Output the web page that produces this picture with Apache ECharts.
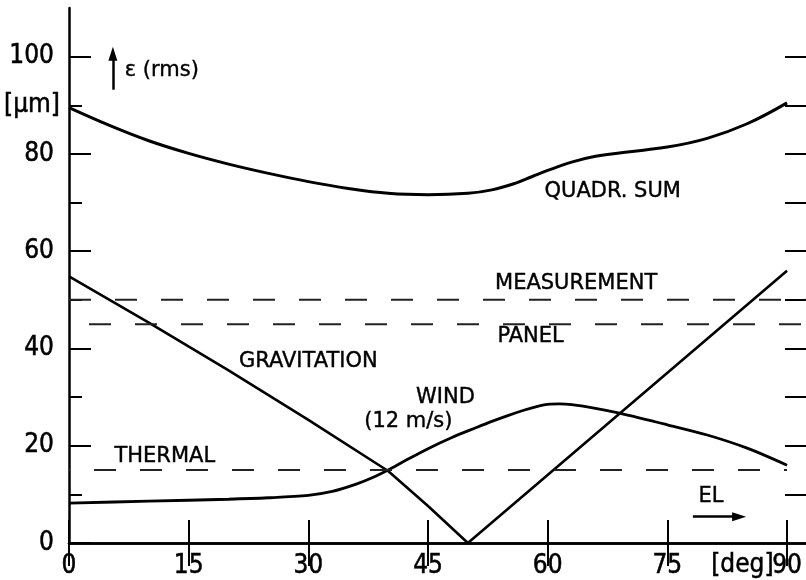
<!DOCTYPE html>
<html>
<head>
<meta charset="utf-8">
<script src="https://cdn.jsdelivr.net/npm/echarts@6/dist/echarts.min.js"></script>
<style>html,body{margin:0;padding:0;background:#fff;}#c{width:806px;height:580px;}</style>
</head>
<body>
<div id="c"></div>
<script>
// Elevation (deg) vs rms error (µm)
const xTicks = [0, 15, 30, 45, 60, 75, 90];
const yMajorTicks = [0, 20, 40, 60, 80, 100];
const yMinorTicks = [10, 30, 50, 70, 90];
const yRightTicks = [10, 20, 30, 40, 50, 60, 70, 80, 90, 100];
const quadSum = [[0,89.5],[5,85.9],[10,82.7],[15,80.1],[20,77.9],[25,76.0],[30,74.3],[35,72.9],[40,71.9],[45,71.6],[50,71.9],[53,72.6],[56,74.0],[58,75.3],[60,76.6],[63,78.3],[66,79.5],[70,80.4],[75,81.4],[80,83.2],[85,86.2],[90,90.5]];
const gravitation = [[0,54.8],[10,45.3],[20,35.5],[30,25.3],[40,14.8],[45,7.6],[50,0],[90,56]];
const wind = [[0,8.2],[10,8.6],[20,9.0],[25,9.3],[30,9.8],[33,10.6],[36,12.1],[38,13.4],[40,15.0],[42,16.8],[45,19.4],[48,21.7],[51,23.7],[53,25.0],[55,26.2],[57,27.3],[58.5,28.0],[60,28.5],[61.5,28.6],[63,28.45],[66,27.7],[69,26.7],[75,24.3],[80,22.2],[85,19.5],[90,16.0]];
const measurement = [[0,50],[92.4,50]];
const panel = [[0,45],[92.4,45]];
const thermal = [[0,15],[90,15]];
const labels = [
  {name:'ε (rms)', value:[7.0,97.1]},
  {name:'QUADR. SUM', value:[59.6,72.3]},
  {name:'MEASUREMENT', value:[53.4,53.3]},
  {name:'PANEL', value:[53.7,42.4]},
  {name:'GRAVITATION', value:[21.3,37.4]},
  {name:'WIND', value:[43.5,30.0]},
  {name:'(12 m/s)', value:[37.0,25.0]},
  {name:'THERMAL', value:[5.7,17.8]},
  {name:'EL', value:[78.9,9.5]}
];
const axisNotes = [
  {name:'[deg]', value:[80.5,-4.6]}
];
const arrows = [
  [[5.5,93.2],[5.5,100.6]],
  [[78.2,5.4],[84.0,5.4]]
];

const INK = '#000';
const tickFont = "'DejaVu Sans Condensed','Liberation Sans Narrow','DejaVu Sans',sans-serif";
const textFont = "'DejaVu Sans',sans-serif";
const XMAX = 92.38;

const chart = echarts.init(document.getElementById('c'), null, {renderer:'canvas'});
const tickLabelStyle = {color:INK, fontFamily:tickFont, fontSize:26, textBorderColor:INK, textBorderWidth:0.5};
const baseX = {
  type:'value', min:0, max:XMAX, interval:15,
  splitLine:{show:false},
  axisLine:{show:true, lineStyle:{color:INK, width:2.5}},
  axisTick:{show:true, inside:true, length:23, customValues:xTicks, lineStyle:{color:INK, width:2}}
};
chart.setOption({
  backgroundColor:'#fff',
  animation:false,
  grid:{left:69, right:0, top:8, bottom:37, containLabel:false},
  xAxis:[
    Object.assign({}, baseX, {
      position:'bottom',
      axisLabel:Object.assign({show:true, margin:10, customValues:xTicks}, tickLabelStyle)
    }),
    Object.assign({}, baseX, {position:'top', axisLabel:{show:false}})
  ],
  yAxis:[
    {type:'value', position:'left', min:0, max:110, interval:10,
     splitLine:{show:false},
     axisLine:{show:true, lineStyle:{color:INK, width:2.5}},
     axisTick:{show:true, inside:true, length:22, customValues:yMajorTicks, lineStyle:{color:INK, width:2}},
     axisLabel:Object.assign({show:true, margin:15, customValues:yMajorTicks}, tickLabelStyle)},
    {type:'value', position:'left', min:0, max:110, interval:10,
     splitLine:{show:false},
     axisLine:{show:false},
     axisTick:{show:true, inside:true, length:13, customValues:yMinorTicks, lineStyle:{color:INK, width:2}},
     axisLabel:Object.assign({show:true, margin:9, customValues:[90],
       formatter:v => v === 90 ? '[µm]' : ''}, tickLabelStyle)},
    {type:'value', position:'right', min:0, max:110, interval:10,
     splitLine:{show:false},
     axisLine:{show:false},
     axisTick:{show:true, inside:true, length:21, customValues:yRightTicks, lineStyle:{color:INK, width:2}},
     axisLabel:{show:false}}
  ],
  series:[
    {type:'line', name:'QUADR. SUM', data:quadSum, smooth:0.4, symbol:'none',
     lineStyle:{color:INK, width:3}},
    {type:'line', name:'GRAVITATION', data:gravitation, smooth:false, symbol:'none',
     lineStyle:{color:INK, width:2.6}},
    {type:'line', name:'WIND', data:wind, smooth:0.3, symbol:'none',
     lineStyle:{color:INK, width:2.8}},
    {type:'line', name:'MEASUREMENT', data:measurement, symbol:'none',
     lineStyle:{color:'#222', width:2, type:[22,24]}},
    {type:'line', name:'PANEL', data:panel, symbol:'none',
     lineStyle:{color:'#222', width:2, type:[22,24], dashOffset:-20}},
    {type:'line', name:'THERMAL', data:thermal, symbol:'none',
     lineStyle:{color:'#222', width:2, type:[22,24], dashOffset:-25}},
    {type:'scatter', name:'labels', data:labels, symbolSize:0, clip:false, silent:true,
     itemStyle:{opacity:1},
     label:{show:true, position:'right', distance:0, color:INK, fontFamily:textFont, fontSize:21,
       textBorderColor:INK, textBorderWidth:0.4, formatter:p => p.name}},
    {type:'scatter', name:'axisNotes', data:axisNotes, symbolSize:0, clip:false, silent:true,
     itemStyle:{opacity:1},
     label:Object.assign({show:true, position:'right', distance:0, formatter:p => p.name}, tickLabelStyle)},
    {type:'line', name:'arrows', data:[], symbol:'none',
     markLine:{silent:true, animation:false, symbol:['none','triangle'], symbolSize:[9,14],
       label:{show:false},
       itemStyle:{color:INK},
       lineStyle:{color:INK, width:2.5, type:'solid', opacity:1},
       data:arrows.map(a => [{coord:a[0]},{coord:a[1]}])}}
  ]
});
</script>
</body>
</html>
